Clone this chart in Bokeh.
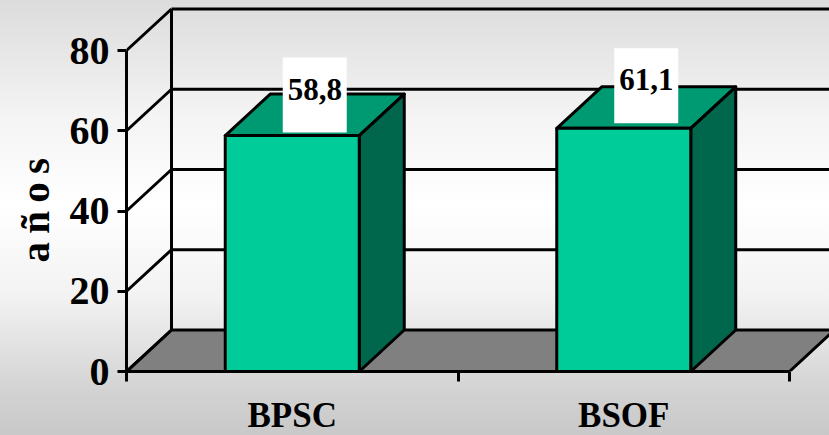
from bokeh.plotting import figure
from bokeh.embed import file_html
from bokeh.resources import INLINE
from bokeh.models import Range1d, LinearAxis, FixedTicker, Title
from bokeh.core.properties import value

categories = ["BPSC", "BSOF"]
bar_heights = [58.8, 60.6]
label_values = [58.8, 61.1]
label_texts = ["58,8", "61,1"]
y_ticks = [0, 20, 40, 60, 80]
y_title = "a\u2009ñ\u2009o\u2009s"

FONT = "Liberation Serif"
GREEN, TOP, SIDE = "#00CC99", "#009A72", "#00664C"
LW = 3
PX_X, PX_Y = 331.5, 4.0125        # pixels per category / per value unit
DX, DY = 45 / PX_X, 41.5 / PX_Y   # depth of the 3D box in data units
BAR_W = 134 / PX_X
n = len(categories)

p = figure(width=829, height=435, frame_width=703, frame_height=371,
           output_backend="svg", toolbar_location=None,
           x_range=Range1d(0, 703 / PX_X), y_range=Range1d(0, 371 / PX_Y),
           x_axis_location=None, y_axis_location=None,
           min_border_left=126, min_border_right=0, min_border_top=0, min_border_bottom=64,
           background_fill_color=None, border_fill_color=None)
p.outline_line_color = None
p.grid.visible = False
p.styles = {"position": "fixed", "left": "0", "top": "0",
            "background": "linear-gradient(180deg,#dcdcdc 0%,#f4f4f4 27%,#ffffff 47%,#f2f2f2 68%,#d2d2d2 90%,#c8c8c8 100%)"}

# floor
p.patch([0, n, n + DX, DX], [0, 0, DY, DY], fill_color="#808080", line_color="black", line_width=LW)
# back wall and side wall grid
for t in y_ticks:
    if t > 0:
        p.line([DX, 703 / PX_X + 1], [t + DY, t + DY], line_color="black", line_width=LW)
    p.line([0, DX], [t, t + DY], line_color="black", line_width=LW)
p.line([DX, DX], [DY, y_ticks[-1] + DY], line_color="black", line_width=LW)

# bars
for i, h in enumerate(bar_heights):
    x0, x1 = i + 0.5 - BAR_W / 2, i + 0.5 + BAR_W / 2
    p.patch([x0, x1, x1 + DX, x0 + DX], [h, h, h + DY, h + DY], fill_color=TOP,
            line_color="black", line_width=LW, line_join="round")
    p.patch([x1, x1 + DX, x1 + DX, x1], [0, DY, h + DY, h], fill_color=SIDE,
            line_color="black", line_width=LW, line_join="round")
    p.patch([x0, x1, x1, x0], [0, 0, h, h], fill_color=GREEN,
            line_color="black", line_width=LW, line_join="round")

# data labels
lx = [i + 0.5 + DX / 2 for i in range(n)]
ly = [v + 40.5 / PX_Y for v in label_values]
p.rect(lx, ly, width=64, height=75, width_units="screen", height_units="screen",
       fill_color="white", line_color=None)
p.text(lx, ly, text=label_texts, text_font=value(FONT), text_font_style="bold",
       text_font_size="31px", text_align="center", text_baseline="middle",
       y_offset=-6, text_color="black")

# axes
ya = LinearAxis(ticker=FixedTicker(ticks=y_ticks), bounds=(0, y_ticks[-1]))
ya.axis_line_color = "black"; ya.axis_line_width = LW
ya.major_tick_line_color = "black"; ya.major_tick_line_width = LW
ya.major_tick_in = 0; ya.major_tick_out = 9
ya.minor_tick_line_color = None
ya.major_label_standoff = 8
ya.major_label_text_font = FONT; ya.major_label_text_font_style = "bold"
ya.major_label_text_font_size = "40px"; ya.major_label_text_color = "black"
p.add_layout(ya, "left")

xa = LinearAxis(ticker=FixedTicker(ticks=[i + 0.5 for i in range(n)], minor_ticks=list(range(n + 1))),
                bounds=(0, n))
xa.major_label_overrides = {i + 0.5: c for i, c in enumerate(categories)}
xa.axis_line_color = "black"; xa.axis_line_width = LW
xa.major_tick_line_color = None
xa.major_tick_in = 0; xa.major_tick_out = 0
xa.minor_tick_line_color = "black"; xa.minor_tick_line_width = LW
xa.minor_tick_in = 0; xa.minor_tick_out = 10
xa.major_label_standoff = 14
xa.major_label_text_font = FONT; xa.major_label_text_font_style = "bold"
xa.major_label_text_font_size = "35px"; xa.major_label_text_color = "black"
p.add_layout(xa, "below")

t = Title(text=y_title, align="left", offset=109, standoff=18, text_font=FONT,
          text_font_style="bold", text_font_size="41px", text_color="black")
p.add_layout(t, "left")

open("out.html", "w").write(file_html(p, INLINE))
